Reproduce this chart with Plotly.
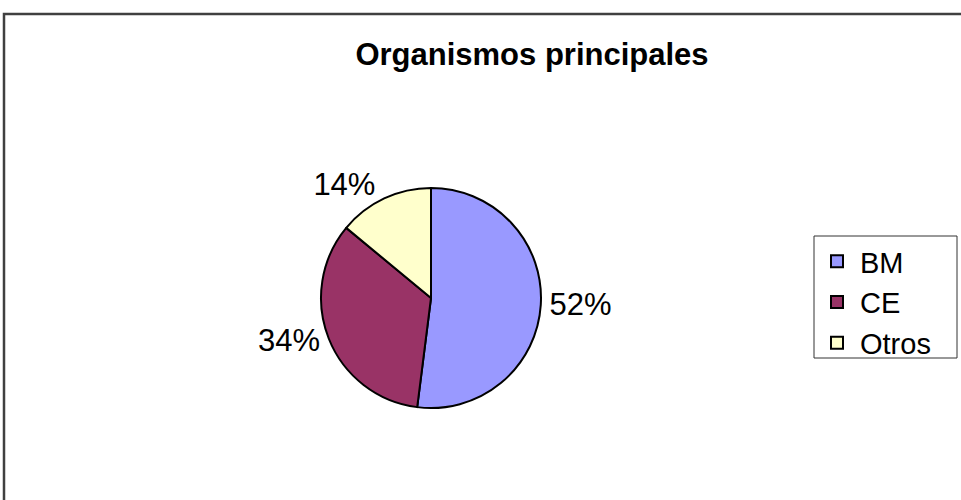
import plotly.graph_objects as go

labels = ["BM", "CE", "Otros"]
values = [52, 34, 14]
colors = ["#9999FF", "#993366", "#FFFFCC"]
title_text = "Organismos principales"

W, H = 961, 500
cx, cy, r = 431, 298, 110
FONT = "Liberation Sans, Arial"

fig = go.Figure(go.Pie(
    labels=labels,
    values=values,
    sort=False,
    direction="clockwise",
    rotation=0,
    marker=dict(colors=colors, line=dict(color="black", width=2)),
    textinfo="percent",
    texttemplate="%{percent:.0%}",
    textposition="outside",
    outsidetextfont=dict(family=FONT, size=31, color="black"),
    domain=dict(x=[(cx - r) / W, (cx + r) / W], y=[(H - cy - r) / H, (H - cy + r) / H]),
    automargin=False,
    showlegend=True,
))

fig.update_layout(
    width=W, height=H,
    margin=dict(l=0, r=0, t=0, b=0),
    paper_bgcolor="white",
    plot_bgcolor="white",
    font=dict(family=FONT, color="black"),
    title=dict(text="<b>" + title_text + "</b>", x=532 / W, y=1 - 54 / H,
               xanchor="center", yanchor="middle",
               font=dict(size=31, color="black", family=FONT)),
    legend=dict(x=814 / W, y=1 - 236 / H, xanchor="left", yanchor="top",
                borderwidth=0, bgcolor="rgba(0,0,0,0)",
                itemwidth=36,
                font=dict(size=29, color="black", family=FONT)),
    shapes=[
        dict(type="rect", xref="paper", yref="paper",
             x0=4 / W, x1=1.02, y0=-0.02, y1=1 - 14 / H,
             line=dict(color="#404040", width=2.5)),
        dict(type="rect", xref="paper", yref="paper",
             x0=814 / W, x1=957 / W, y0=1 - 358 / H, y1=1 - 236 / H,
             line=dict(color="#333333", width=1), fillcolor="white", layer="below"),
    ],
)

fig.write_html("out.html", config={"displayModeBar": False},
               post_script="document.body.style.margin='0';")
